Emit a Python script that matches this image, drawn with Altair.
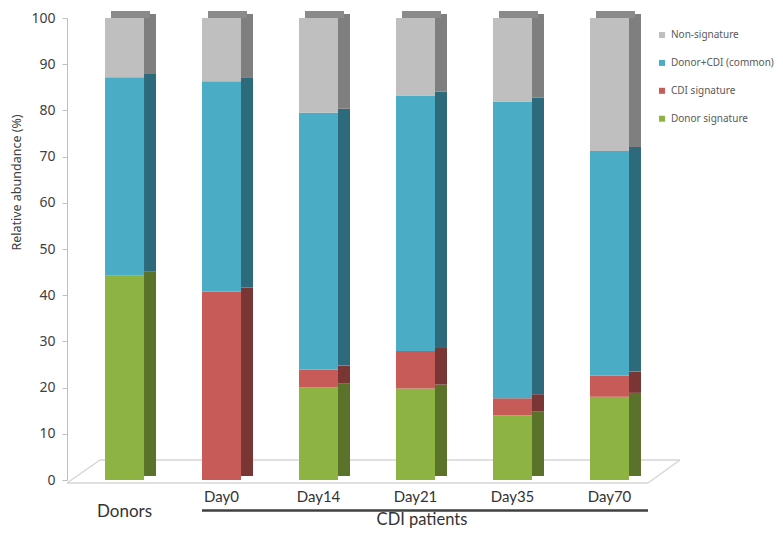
import altair as alt
import pandas as pd

# ---- data ----
categories = ["Donors", "Day0", "Day14", "Day21", "Day35", "Day70"]
segments = ["Donor signature", "CDI signature", "Donor+CDI (common)", "Non-signature"]
donor_signature = [44.2, 0.0, 20.0, 19.8, 14.0, 18.0]
cdi_signature = [0.0, 40.8, 3.9, 8.1, 3.7, 4.6]
common = [43.0, 45.5, 55.6, 55.3, 64.2, 48.6]
non_signature = [12.8, 13.7, 20.5, 16.8, 18.1, 28.8]
y_ticks = list(range(0, 101, 10))
legend_order = ["Non-signature", "Donor+CDI (common)", "CDI signature", "Donor signature"]
front_colors = ["#bfbfbf", "#4bacc6", "#c65b58", "#8db443"]
side_colors = ["#7f7f7f", "#2d6a7c", "#7a3634", "#5a7229"]
group_label = "CDI patients"

series = [donor_signature, cdi_signature, common, non_signature]
rows = []
for rank, (seg, vals) in enumerate(zip(segments, series)):
    for cat, v in zip(categories, vals):
        rows.append({"category": cat, "segment": seg, "value": v, "rank": rank})
df = pd.DataFrame(rows)
cats_df = pd.DataFrame({"category": categories})
one = pd.DataFrame({"k": [0]})

W, H = 600, 462
FONT_TXT = "Lato"
FONT_AX = "Noto Sans"

x_enc = alt.X("category:N", sort=categories,
              scale=alt.Scale(paddingInner=0.598, paddingOuter=0.392),
              axis=None)
y_enc = alt.Y("value:Q", stack="zero",
              scale=alt.Scale(domain=[0, 100], nice=False),
              axis=alt.Axis(values=y_ticks, grid=False, domainColor="#bfbfbf",
                            tickColor="#bfbfbf", tickSize=5, labelPadding=7,
                            labelFont=FONT_AX, labelFontSize=14, labelColor="#404040",
                            title="Relative abundance (%)", titleFont=FONT_AX,
                            titleFontSize=12.5, titleFontWeight="normal",
                            titleColor="#404040", titleX=-51, titleY=164,
                            titleAlign="center", titleBaseline="middle"))

# floor outline (3D base plane)
floor_col = "#d6d6d6"
floor = alt.layer(
    alt.Chart(one).mark_rule(color=floor_col, strokeWidth=1.5).encode(
        x=alt.value(0), x2=alt.value(581), y=alt.value(465)),
    alt.Chart(one).mark_rule(color=floor_col, strokeWidth=1.5).encode(
        x=alt.value(33), x2=alt.value(613), y=alt.value(442)),
    alt.Chart(one).mark_rule(color=floor_col, strokeWidth=1.5).encode(
        x=alt.value(0), x2=alt.value(33), y=alt.value(465), y2=alt.value(442)),
    alt.Chart(one).mark_rule(color=floor_col, strokeWidth=1.5).encode(
        x=alt.value(581), x2=alt.value(613), y=alt.value(465), y2=alt.value(442)),
)

side = alt.Chart(df).mark_bar(width=12, xOffset=25.5, yOffset=-4).encode(
    x=x_enc,
    y=alt.Y("value:Q", stack="zero"),
    color=alt.Color("segment:N", scale=alt.Scale(domain=legend_order, range=side_colors),
                    legend=None),
    order=alt.Order("rank:Q", sort="ascending"),
)

cap = alt.Chart(df).mark_tick(thickness=7, size=39, xOffset=6, yOffset=-3.5,
                              color="#8a8a8a", orient="horizontal").encode(
    x=x_enc,
    y=alt.Y("sum(value):Q"),
)

front = alt.Chart(df).mark_bar(width=39).encode(
    x=x_enc,
    y=y_enc,
    color=alt.Color("segment:N",
                    scale=alt.Scale(domain=legend_order, range=front_colors),
                    legend=alt.Legend(title=None, orient="none", legendX=590, legendY=12,
                                      symbolType="square", symbolSize=36,
                                      symbolStrokeWidth=0, labelFont=FONT_AX,
                                      labelFontSize=10, labelColor="#595959",
                                      rowPadding=17.9, padding=0, labelOffset=4)),
    order=alt.Order("rank:Q", sort="ascending"),
)

day_labels = alt.Chart(cats_df).transform_filter(
    alt.datum.category != "Donors").mark_text(
    font=FONT_TXT, fontSize=15, color="#333333", baseline="middle").encode(
    x=x_enc, y=alt.value(479), text="category:N")

donor_label = alt.Chart(cats_df).transform_filter(
    alt.datum.category == "Donors").mark_text(
    font=FONT_TXT, fontSize=17, color="#333333", baseline="middle").encode(
    x=x_enc, y=alt.value(494), text="category:N")

bracket = alt.Chart(one).mark_rule(color="#404040", strokeWidth=2.5).encode(
    x=alt.value(135), x2=alt.value(581), y=alt.value(492.5))

group_text = alt.Chart(one).mark_text(
    text=group_label, font=FONT_TXT, fontSize=16.5, color="#333333",
    baseline="middle", align="center").encode(
    x=alt.value(355), y=alt.value(502))

chart = alt.layer(floor, side, cap, front, day_labels, donor_label, bracket, group_text).resolve_scale(
    color="independent"
).properties(
    width=W, height=H,
    autosize=alt.AutoSizeParams(type="none"),
    padding={"left": 59, "top": 10, "right": 108, "bottom": 49},
).configure_view(stroke=None)

chart.save("out.html", embed_options={"renderer": "svg", "actions": False})
